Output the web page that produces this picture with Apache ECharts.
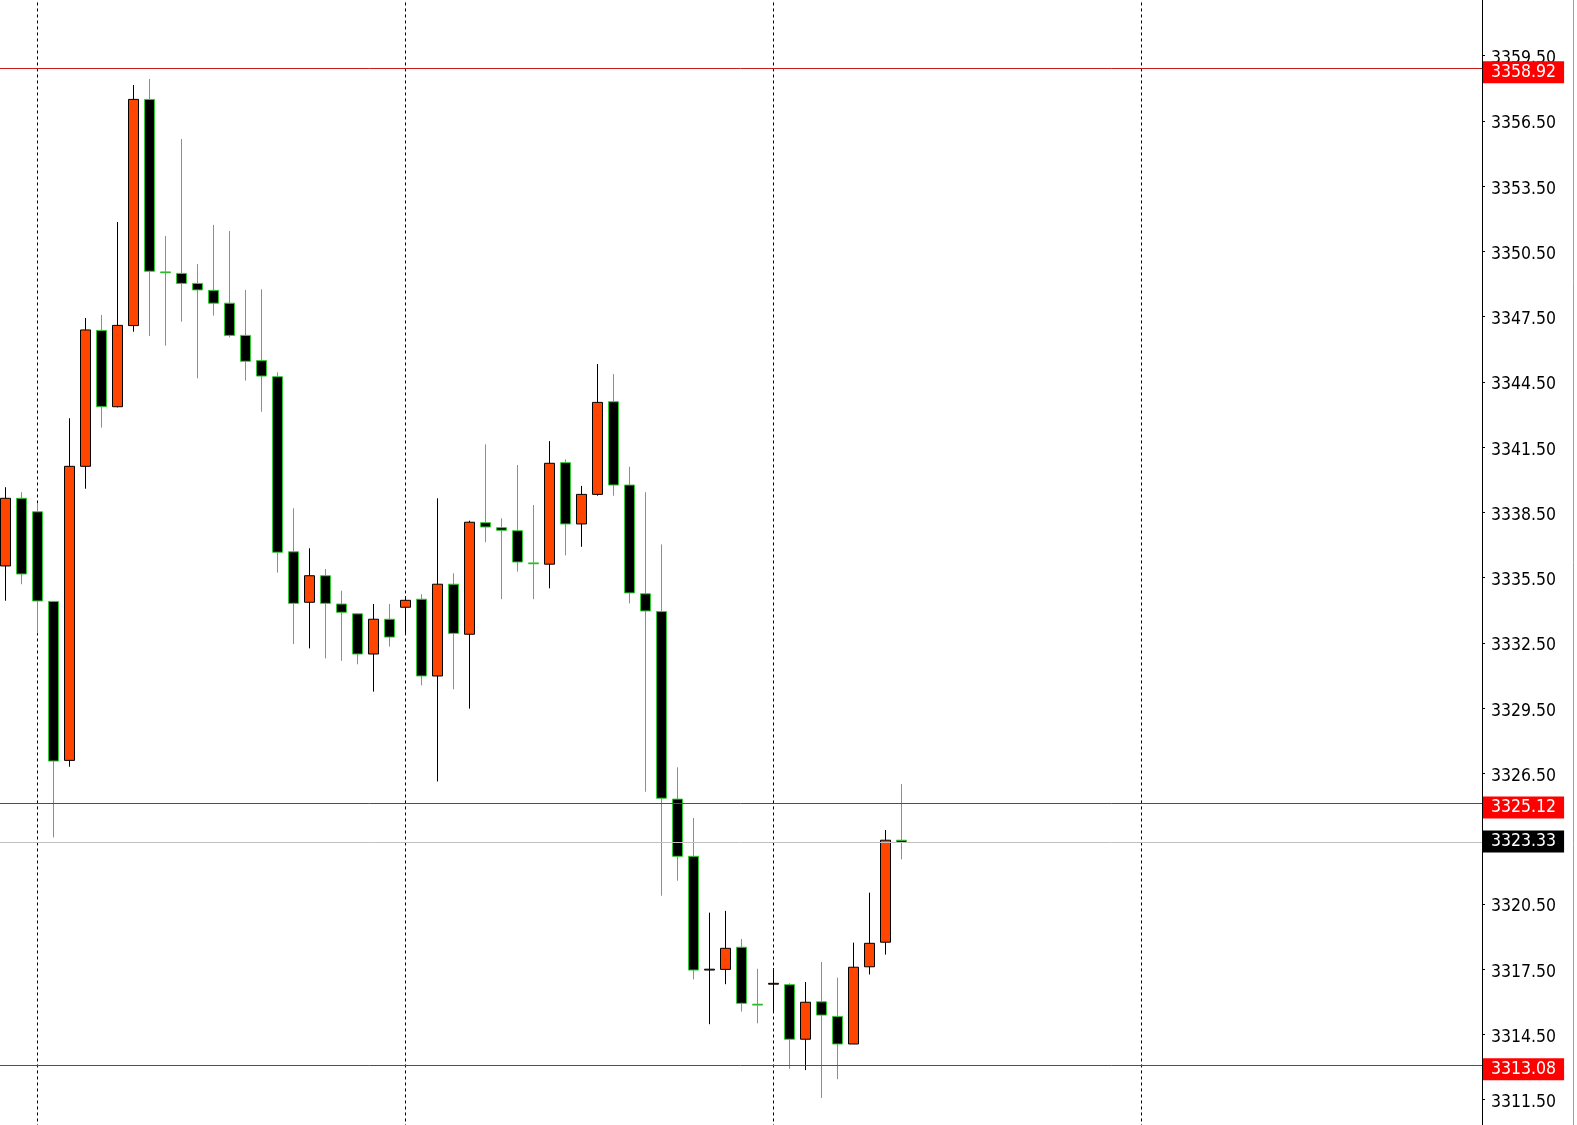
<!DOCTYPE html>
<html>
<head>
<meta charset="utf-8">
<script src="https://cdn.jsdelivr.net/npm/echarts@6/dist/echarts.min.js"></script>
<style>
html,body{margin:0;padding:0;background:#ffffff;}
#chart{width:1577px;height:1125px;}
</style>
</head>
<body>
<div id="chart"></div>
<script>
// ---- data (bar index = position) ----
const opens = [
  3336.04, 3339.15, 3338.53, 3334.41, 3327.10, 3340.62, 3346.87, 3343.36, 3347.09, 3357.49,
  3349.56, 3349.49, 3349.03, 3348.71, 3348.12, 3346.64, 3345.48, 3344.74, 3336.69, 3334.37,
  3335.59, 3334.29, 3333.84, 3331.99, 3333.59, 3334.14, 3334.51, 3330.98, 3335.20, 3332.90,
  3338.03, 3337.80, 3337.66, 3336.18, 3336.12, 3340.79, 3337.97, 3339.33, 3343.59, 3339.76,
  3334.76, 3333.94, 3325.32, 3322.69, 3317.46, 3317.49, 3318.51, 3315.89, 3316.81, 3316.79,
  3314.28, 3316.00, 3315.33, 3314.06, 3317.61, 3318.74, 3323.43
];
const closes = [
  3339.15, 3335.67, 3334.43, 3327.07, 3340.62, 3346.89, 3343.36, 3347.10, 3357.49, 3349.59,
  3349.52, 3349.03, 3348.73, 3348.12, 3346.64, 3345.45, 3344.77, 3336.67, 3334.32, 3335.59,
  3334.32, 3333.91, 3331.99, 3333.59, 3332.77, 3334.46, 3330.98, 3335.20, 3332.94, 3338.05,
  3337.83, 3337.68, 3336.22, 3336.14, 3340.76, 3337.97, 3339.33, 3343.56, 3339.76, 3334.80,
  3333.97, 3325.36, 3322.69, 3317.46, 3317.50, 3318.46, 3315.93, 3315.85, 3316.85, 3314.28,
  3315.98, 3315.39, 3314.06, 3317.59, 3318.69, 3323.43, 3323.33
];
const lows = [
  3334.44, 3335.20, 3332.94, 3323.56, 3326.81, 3339.59, 3342.40, 3343.33, 3346.81, 3346.61,
  3346.17, 3347.27, 3344.67, 3347.55, 3346.55, 3344.56, 3343.13, 3335.73, 3332.45, 3332.25,
  3331.79, 3331.68, 3331.52, 3330.26, 3332.33, 3332.90, 3330.55, 3326.13, 3330.37, 3329.48,
  3337.13, 3334.51, 3335.78, 3334.51, 3335.01, 3336.53, 3336.92, 3339.27, 3339.27, 3334.32,
  3325.66, 3320.88, 3321.57, 3317.03, 3314.97, 3316.81, 3315.55, 3315.01, 3315.50, 3312.92,
  3312.86, 3311.58, 3312.44, 3314.06, 3317.26, 3318.17, 3322.55
];
const highs = [
  3339.66, 3339.43, 3338.89, 3334.41, 3342.83, 3347.44, 3347.58, 3351.85, 3358.15, 3358.43,
  3351.21, 3355.67, 3349.92, 3351.72, 3351.44, 3348.73, 3348.76, 3344.94, 3338.69, 3336.85,
  3335.90, 3334.90, 3333.84, 3334.29, 3334.29, 3334.65, 3334.74, 3339.15, 3335.70, 3338.12,
  3341.63, 3338.23, 3340.68, 3338.84, 3341.78, 3340.94, 3339.72, 3345.32, 3344.86, 3340.60,
  3339.43, 3337.03, 3326.78, 3324.45, 3320.10, 3320.18, 3318.89, 3317.52, 3317.54, 3316.85,
  3316.91, 3317.83, 3317.11, 3318.72, 3321.02, 3323.90, 3326.01
];
// horizontal levels drawn on the chart
const levelLines = [3358.92, 3325.12, 3313.08];
const bidPrice = 3323.33;
// price scale: ticks every 3.00 starting at x.50
const priceTickStep = 3;
const priceMin = 3308.5;
const priceMax = 3362.5;
// period separators every 23 bars (first one through bar 2)
const separatorEvery = 23;
const barAxisMin = -21;
const barAxisMax = 92.28125;

// ---- chart ----
const FONT = "'DejaVu Sans Condensed', 'DejaVu Sans', sans-serif";
const chart = echarts.init(document.getElementById('chart'), null, {renderer: 'canvas'});

const candleData = opens.map((o, i) => [i, o, closes[i], lows[i], highs[i]]);

function levelLabel(bg, dy) {
  return {
    show: true,
    position: 'end',
    distance: 1,
    offset: [0, dy],
    formatter: p => Number(p.value).toFixed(2),
    backgroundColor: bg,
    color: '#ffffff',
    fontSize: 17.5,
    lineHeight: 16,
    fontFamily: FONT,
    padding: [4, 8, 2, 8]
  };
}

const markData = levelLines.map(v => ({
  yAxis: v,
  lineStyle: {color: '#c41e1e', width: 1, type: 'solid'},
  label: levelLabel('#ff0000', 4)
}));
markData.push({
  yAxis: bidPrice,
  lineStyle: {color: '#c0c0c0', width: 1, type: 'solid'},
  label: levelLabel('#000000', -1)
});

chart.setOption({
  animation: false,
  backgroundColor: '#ffffff',
  grid: {left: -330.5, right: 95, top: -9.57, bottom: -39.94, containLabel: false, outerBoundsMode: 'none'},
  xAxis: {
    type: 'value',
    min: barAxisMin,
    max: barAxisMax,
    interval: separatorEvery,
    axisLine: {show: false, onZero: false},
    axisTick: {show: false},
    axisLabel: {show: false},
    splitLine: {show: true, lineStyle: {color: '#000000', width: 1, type: [3, 3]}}
  },
  yAxis: {
    type: 'value',
    position: 'right',
    min: priceMin,
    max: priceMax,
    interval: priceTickStep,
    axisLine: {show: true, onZero: false, lineStyle: {color: '#000000', width: 1}},
    axisTick: {show: true, length: 3, lineStyle: {color: '#000000'}},
    axisLabel: {
      color: '#000000',
      fontSize: 17.5,
      fontFamily: FONT,
      margin: 9,
      verticalAlign: 'top',
      lineHeight: 6,
      formatter: v => v.toFixed(2)
    },
    splitLine: {show: false}
  },
  graphic: [{
    type: 'line',
    shape: {x1: 1573.5, y1: 0, x2: 1573.5, y2: 1125},
    style: {stroke: '#a0a0a0', lineWidth: 1},
    silent: true
  }],
  series: [{
    type: 'candlestick',
    data: candleData,
    barWidth: 10,
    itemStyle: {
      color: '#ff4500',
      color0: '#000000',
      borderColor: '#000000',
      borderColor0: '#32cd32',
      borderWidth: 1
    },
    markLine: {
      silent: true,
      symbol: ['none', 'none'],
      animation: false,
      data: markData
    }
  }]
});
</script>
</body>
</html>
